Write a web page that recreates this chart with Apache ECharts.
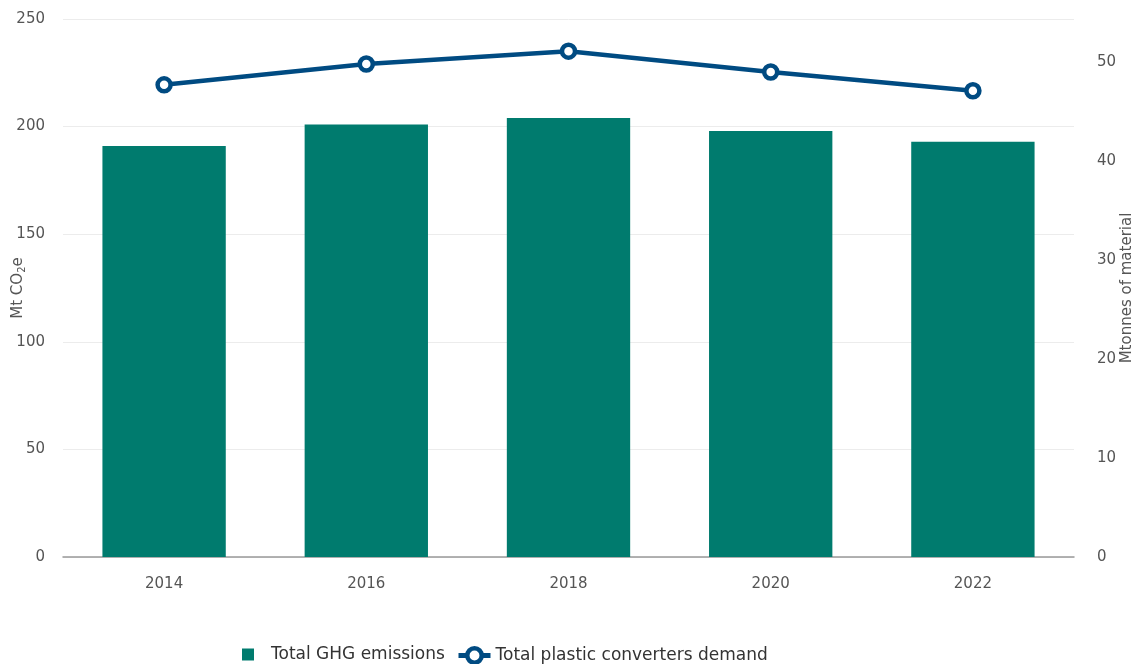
<!DOCTYPE html>
<html>
<head>
<meta charset="utf-8">
<script src="https://cdn.jsdelivr.net/npm/echarts@6/dist/echarts.min.js"></script>
<style>
  html, body { margin: 0; padding: 0; background: #fff; }
  #chart { width: 1136px; height: 664px; }
</style>
</head>
<body>
<div id="chart"></div>
<script>
// Years shown on the category axis
const years = ['2014', '2016', '2018', '2020', '2022'];
// Total GHG emissions, Mt CO2e (left axis)
const ghgEmissions = [191, 201, 204, 198, 193];
// Total plastic converters demand, Mtonnes of material (right axis)
const convertersDemand = [47.7, 49.8, 51.1, 49.0, 47.1];
// Axis tick settings
const leftTicks = { min: 0, max: 250, interval: 50 };
const rightTicks = { min: 0, max: 54.35, interval: 10 };

const FONT = 'DejaVu Sans, Verdana, sans-serif';
const BAR_COLOR = '#007b6e';
const LINE_COLOR = '#004b82';
const TEXT_COLOR = '#555';
const LEGEND_TEXT = { fontFamily: FONT, fontSize: 17, color: '#333' };

const chart = echarts.init(document.getElementById('chart'));
chart.setOption({
  animation: false,
  grid: {
    left: 63, right: 62, top: 19, bottom: 107,
    containLabel: false,
    outerBoundsMode: 'none'
  },
  legend: [
    {
      top: 641,
      left: 237,
      itemWidth: 36,
      itemHeight: 12,
      textStyle: LEGEND_TEXT,
      data: [{
        name: 'Total GHG emissions',
        icon: 'path://M0,0 L10,0 L10,10 L0,10 Z',
        itemStyle: { color: BAR_COLOR }
      }]
    },
    {
      top: 641,
      left: 451,
      itemWidth: 32,
      itemHeight: 18,
      textStyle: LEGEND_TEXT,
      data: [{
        name: 'Total plastic converters demand',
        lineStyle: { color: LINE_COLOR, width: 5 },
        itemStyle: { color: '#fff', borderColor: LINE_COLOR, borderWidth: 4.5 }
      }]
    }
  ],
  xAxis: {
    type: 'category',
    data: years,
    axisLine: { show: true, lineStyle: { color: '#999', width: 1.5 } },
    axisTick: { show: false },
    axisLabel: { fontFamily: FONT, fontSize: 15, color: TEXT_COLOR, margin: 20 }
  },
  yAxis: [
    {
      type: 'value',
      min: leftTicks.min,
      max: leftTicks.max,
      interval: leftTicks.interval,
      name: '{n|Mt CO}{s|2}{n|e}',
      nameLocation: 'middle',
      nameGap: 36,
      nameRotate: 90,
      nameMoveOverlap: false,
      nameTextStyle: {
        rich: {
          n: { fontFamily: FONT, fontSize: 15, color: TEXT_COLOR },
          s: { fontFamily: FONT, fontSize: 10, color: TEXT_COLOR, verticalAlign: 'bottom', padding: [7, 0, 0, 0] }
        }
      },
      axisLine: { show: false },
      axisTick: { show: false },
      axisLabel: { fontFamily: FONT, fontSize: 15, color: TEXT_COLOR, margin: 18 },
      splitLine: { show: true, lineStyle: { color: '#ececec', width: 1 } }
    },
    {
      type: 'value',
      min: rightTicks.min,
      max: rightTicks.max,
      interval: rightTicks.interval,
      name: 'Mtonnes of material',
      nameLocation: 'middle',
      nameGap: 46,
      nameRotate: 90,
      nameMoveOverlap: false,
      nameTextStyle: { fontFamily: FONT, fontSize: 15, color: TEXT_COLOR },
      axisLine: { show: false },
      axisTick: { show: false },
      axisLabel: { fontFamily: FONT, fontSize: 15, color: TEXT_COLOR, margin: 23, showMaxLabel: false },
      splitLine: { show: false }
    }
  ],
  series: [
    {
      name: 'Total GHG emissions',
      type: 'bar',
      yAxisIndex: 0,
      data: ghgEmissions,
      barWidth: '61%',
      itemStyle: { color: BAR_COLOR }
    },
    {
      name: 'Total plastic converters demand',
      type: 'line',
      yAxisIndex: 1,
      data: convertersDemand,
      symbol: 'circle',
      symbolSize: 13,
      lineStyle: { color: LINE_COLOR, width: 4.5 },
      itemStyle: { color: '#fff', borderColor: LINE_COLOR, borderWidth: 4.5 },
      z: 5
    }
  ]
});
</script>
</body>
</html>
